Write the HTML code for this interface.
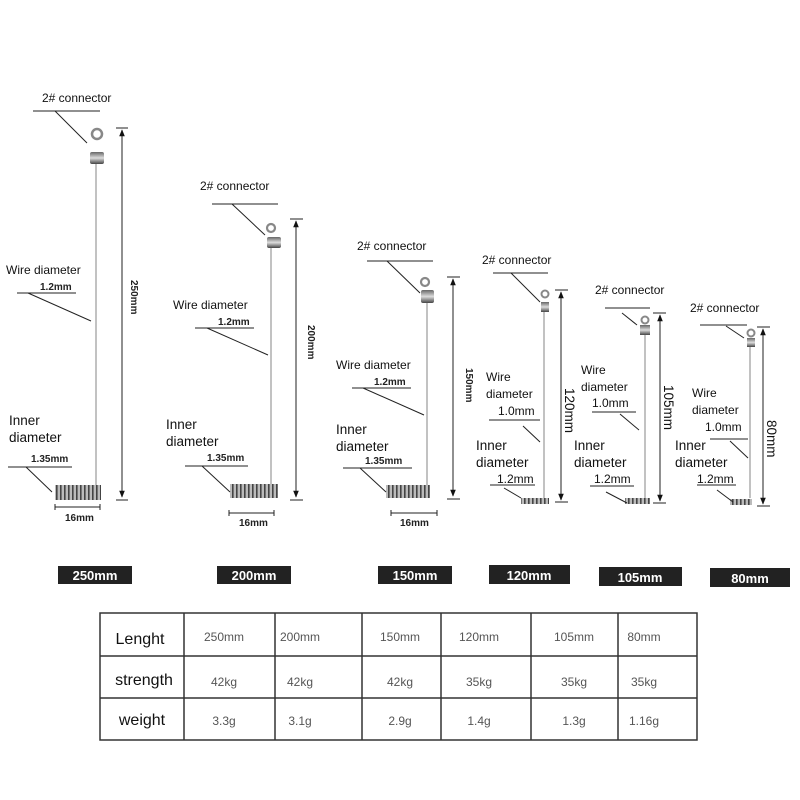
<!DOCTYPE html>
<html><head><style>
html,body{margin:0;padding:0;background:#fff;}
svg{display:block;font-family:"Liberation Sans",sans-serif;}
.t{font-size:12px;fill:#111}
.b{font-size:10px;font-weight:bold;fill:#222}
.n{font-size:13.5px;fill:#111}
.l{stroke:#222;stroke-width:1;fill:none}
.w{stroke:#999;stroke-width:1.2;fill:none}
.tbl text{font-size:12px;fill:#555;text-anchor:middle}
.tbl .h{font-size:16px;fill:#111}
.lab rect{fill:#222}
.lab text{fill:#fff;font-weight:bold;font-size:13px;text-anchor:middle}
</style></head><body>
<svg width="800" height="800" viewBox="0 0 800 800">
<defs>
<marker id="ar" viewBox="0 0 10 10" refX="9" refY="5" markerWidth="7" markerHeight="7" orient="auto-start-reverse"><path d="M0,1 L10,5 L0,9 z" fill="#111"/></marker>
<linearGradient id="sp" x1="0" y1="0" x2="0" y2="1"><stop offset="0" stop-color="#666"/><stop offset="0.5" stop-color="#ddd"/><stop offset="1" stop-color="#444"/></linearGradient>
<pattern id="coil" width="4" height="10" patternUnits="userSpaceOnUse"><rect width="4" height="10" fill="#bbb"/><rect width="1.6" height="10" fill="#444"/></pattern>
</defs>

<!-- Item 1 -->
<text class="t" x="42" y="102">2# connector</text>
<line class="l" x1="33" y1="111" x2="100" y2="111"/><line class="l" x1="55" y1="111" x2="87" y2="143"/>
<circle cx="97" cy="134" r="5" fill="none" stroke="#888" stroke-width="2.5"/>
<rect x="90" y="152" width="14" height="12" fill="url(#sp)" rx="2"/>
<line class="w" x1="96" y1="164" x2="96" y2="490"/>
<rect x="55" y="485" width="46" height="15" fill="url(#coil)"/>
<line class="l" x1="116" y1="128" x2="128" y2="128"/><line class="l" x1="116" y1="500" x2="128" y2="500"/>
<line class="l" x1="122" y1="130" x2="122" y2="497" marker-start="url(#ar)" marker-end="url(#ar)"/>
<text class="b" transform="translate(131,280) rotate(90)">250mm</text>
<text class="t" x="6" y="274">Wire diameter</text><text class="b" x="40" y="290">1.2mm</text>
<line class="l" x1="17" y1="293" x2="76" y2="293"/><line class="l" x1="28" y1="293" x2="91" y2="321"/>
<text class="n" x="9" y="425">Inner</text><text class="n" x="9" y="442">diameter</text><text class="b" x="31" y="462">1.35mm</text>
<line class="l" x1="8" y1="467" x2="72" y2="467"/><line class="l" x1="26" y1="467" x2="52" y2="492"/>
<line class="l" x1="55" y1="507" x2="100" y2="507"/><line class="l" x1="55" y1="504" x2="55" y2="510"/><line class="l" x1="100" y1="504" x2="100" y2="510"/>
<text class="b" x="65" y="521">16mm</text>

<!-- Item 2 -->
<text class="t" x="200" y="190">2# connector</text>
<line class="l" x1="212" y1="204" x2="278" y2="204"/><line class="l" x1="232" y1="204" x2="265" y2="235"/>
<circle cx="271" cy="228" r="4" fill="none" stroke="#888" stroke-width="2.2"/>
<rect x="267" y="237" width="14" height="11" fill="url(#sp)" rx="2"/>
<line class="w" x1="271" y1="248" x2="271" y2="490"/>
<rect x="230" y="484" width="48" height="14" fill="url(#coil)"/>
<line class="l" x1="290" y1="219" x2="303" y2="219"/><line class="l" x1="290" y1="500" x2="303" y2="500"/>
<line class="l" x1="296" y1="221" x2="296" y2="497" marker-start="url(#ar)" marker-end="url(#ar)"/>
<text class="b" transform="translate(308,325) rotate(90)">200mm</text>
<text class="t" x="173" y="309">Wire diameter</text><text class="b" x="218" y="325">1.2mm</text>
<line class="l" x1="195" y1="328" x2="254" y2="328"/><line class="l" x1="207" y1="328" x2="268" y2="355"/>
<text class="n" x="166" y="429">Inner</text><text class="n" x="166" y="446">diameter</text><text class="b" x="207" y="461">1.35mm</text>
<line class="l" x1="185" y1="466" x2="248" y2="466"/><line class="l" x1="202" y1="466" x2="230" y2="492"/>
<line class="l" x1="229" y1="513" x2="274" y2="513"/><line class="l" x1="229" y1="510" x2="229" y2="516"/><line class="l" x1="274" y1="510" x2="274" y2="516"/>
<text class="b" x="239" y="526">16mm</text>

<!-- Item 3 -->
<text class="t" x="357" y="250">2# connector</text>
<line class="l" x1="367" y1="261" x2="433" y2="261"/><line class="l" x1="387" y1="261" x2="420" y2="293"/>
<circle cx="425" cy="282" r="4" fill="none" stroke="#888" stroke-width="2.2"/>
<rect x="421" y="290" width="13" height="13" fill="url(#sp)" rx="2"/>
<line class="w" x1="427" y1="303" x2="427" y2="490"/>
<rect x="386" y="485" width="44" height="13" fill="url(#coil)"/>
<line class="l" x1="447" y1="277" x2="460" y2="277"/><line class="l" x1="447" y1="499" x2="460" y2="499"/>
<line class="l" x1="453" y1="279" x2="453" y2="496" marker-start="url(#ar)" marker-end="url(#ar)"/>
<text class="b" transform="translate(466,368) rotate(90)">150mm</text>
<text class="t" x="336" y="369">Wire diameter</text><text class="b" x="374" y="385">1.2mm</text>
<line class="l" x1="352" y1="388" x2="411" y2="388"/><line class="l" x1="363" y1="388" x2="424" y2="415"/>
<text class="n" x="336" y="434">Inner</text><text class="n" x="336" y="451">diameter</text><text class="b" x="365" y="464">1.35mm</text>
<line class="l" x1="343" y1="468" x2="412" y2="468"/><line class="l" x1="360" y1="468" x2="386" y2="492"/>
<line class="l" x1="391" y1="513" x2="437" y2="513"/><line class="l" x1="391" y1="510" x2="391" y2="516"/><line class="l" x1="437" y1="510" x2="437" y2="516"/>
<text class="b" x="400" y="526">16mm</text>

<!-- Item 4 -->
<text class="t" x="482" y="264">2# connector</text>
<line class="l" x1="493" y1="273" x2="548" y2="273"/><line class="l" x1="511" y1="273" x2="540" y2="302"/>
<circle cx="545" cy="294" r="3.5" fill="none" stroke="#888" stroke-width="2"/>
<rect x="541" y="302" width="8" height="10" fill="url(#sp)"/>
<line class="w" x1="544" y1="312" x2="544" y2="498"/>
<rect x="521" y="498" width="28" height="6" fill="url(#coil)"/>
<line class="l" x1="555" y1="290" x2="568" y2="290"/><line class="l" x1="555" y1="502" x2="568" y2="502"/>
<line class="l" x1="561" y1="292" x2="561" y2="500" marker-start="url(#ar)" marker-end="url(#ar)"/>
<text class="n" transform="translate(565,388) rotate(90)">120mm</text>
<text class="t" x="486" y="381">Wire</text><text class="t" x="486" y="398">diameter</text><text class="t" x="498" y="415">1.0mm</text>
<line class="l" x1="489" y1="420" x2="540" y2="420"/><line class="l" x1="523" y1="426" x2="540" y2="442"/>
<text class="n" x="476" y="450">Inner</text><text class="n" x="476" y="467">diameter</text><text class="t" x="497" y="483">1.2mm</text>
<line class="l" x1="490" y1="485" x2="535" y2="485"/><line class="l" x1="504" y1="488" x2="521" y2="498"/>

<!-- Item 5 -->
<text class="t" x="595" y="294">2# connector</text>
<line class="l" x1="605" y1="308" x2="650" y2="308"/><line class="l" x1="622" y1="313" x2="637" y2="325"/>
<circle cx="645" cy="320" r="3.5" fill="none" stroke="#888" stroke-width="2"/>
<rect x="640" y="325" width="10" height="10" fill="url(#sp)"/>
<line class="w" x1="645" y1="335" x2="645" y2="498"/>
<rect x="625" y="498" width="25" height="6" fill="url(#coil)"/>
<line class="l" x1="653" y1="313" x2="666" y2="313"/><line class="l" x1="653" y1="503" x2="666" y2="503"/>
<line class="l" x1="660" y1="315" x2="660" y2="501" marker-start="url(#ar)" marker-end="url(#ar)"/>
<text class="n" transform="translate(664,385) rotate(90)">105mm</text>
<text class="t" x="581" y="374">Wire</text><text class="t" x="581" y="391">diameter</text><text class="t" x="592" y="407">1.0mm</text>
<line class="l" x1="592" y1="412" x2="636" y2="412"/><line class="l" x1="620" y1="414" x2="639" y2="430"/>
<text class="n" x="574" y="450">Inner</text><text class="n" x="574" y="467">diameter</text><text class="t" x="594" y="483">1.2mm</text>
<line class="l" x1="590" y1="486" x2="634" y2="486"/><line class="l" x1="606" y1="492" x2="627" y2="503"/>

<!-- Item 6 -->
<text class="t" x="690" y="312">2# connector</text>
<line class="l" x1="700" y1="325" x2="747" y2="325"/><line class="l" x1="726" y1="326" x2="744" y2="338"/>
<circle cx="751" cy="333" r="3.5" fill="none" stroke="#888" stroke-width="2"/>
<rect x="747" y="338" width="8" height="9" fill="url(#sp)"/>
<line class="w" x1="750" y1="347" x2="750" y2="498"/>
<rect x="730" y="499" width="22" height="6" fill="url(#coil)"/>
<line class="l" x1="757" y1="327" x2="770" y2="327"/><line class="l" x1="757" y1="506" x2="770" y2="506"/>
<line class="l" x1="763" y1="329" x2="763" y2="504" marker-start="url(#ar)" marker-end="url(#ar)"/>
<text class="n" transform="translate(767,420) rotate(90)">80mm</text>
<text class="t" x="692" y="397">Wire</text><text class="t" x="692" y="414">diameter</text><text class="t" x="705" y="431">1.0mm</text>
<line class="l" x1="710" y1="439" x2="748" y2="439"/><line class="l" x1="730" y1="441" x2="748" y2="458"/>
<text class="n" x="675" y="450">Inner</text><text class="n" x="675" y="467">diameter</text><text class="t" x="697" y="483">1.2mm</text>
<line class="l" x1="697" y1="485" x2="736" y2="485"/><line class="l" x1="717" y1="490" x2="733" y2="502"/>

<!-- labels -->
<g class="lab">
<rect x="58" y="566" width="74" height="18"/><text x="95" y="580">250mm</text>
<rect x="217" y="566" width="74" height="18"/><text x="254" y="580">200mm</text>
<rect x="378" y="566" width="74" height="18"/><text x="415" y="580">150mm</text>
<rect x="489" y="565" width="81" height="19"/><text x="529" y="580">120mm</text>
<rect x="599" y="567" width="83" height="19"/><text x="640" y="582">105mm</text>
<rect x="710" y="568" width="80" height="19"/><text x="750" y="583">80mm</text>
</g>

<!-- table -->
<g class="tbl">
<rect x="100" y="613" width="597" height="127" fill="none" stroke="#333" stroke-width="1.5"/>
<line x1="100" y1="656" x2="697" y2="656" stroke="#333" stroke-width="1.5"/>
<line x1="100" y1="698" x2="697" y2="698" stroke="#333" stroke-width="1.5"/>
<line x1="184" y1="613" x2="184" y2="740" stroke="#333" stroke-width="1.5"/>
<line x1="275" y1="613" x2="275" y2="740" stroke="#333" stroke-width="1.5"/>
<line x1="362" y1="613" x2="362" y2="740" stroke="#333" stroke-width="1.5"/>
<line x1="441" y1="613" x2="441" y2="740" stroke="#333" stroke-width="1.5"/>
<line x1="531" y1="613" x2="531" y2="740" stroke="#333" stroke-width="1.5"/>
<line x1="618" y1="613" x2="618" y2="740" stroke="#333" stroke-width="1.5"/>
<text class="h" x="140" y="644">Lenght</text>
<text class="h" x="144" y="685">strength</text>
<text class="h" x="142" y="725">weight</text>
<text x="224" y="641">250mm</text><text x="300" y="641">200mm</text><text x="400" y="641">150mm</text>
<text x="479" y="641">120mm</text><text x="574" y="641">105mm</text><text x="644" y="641">80mm</text>
<text x="224" y="686">42kg</text><text x="300" y="686">42kg</text><text x="400" y="686">42kg</text>
<text x="479" y="686">35kg</text><text x="574" y="686">35kg</text><text x="644" y="686">35kg</text>
<text x="224" y="725">3.3g</text><text x="300" y="725">3.1g</text><text x="400" y="725">2.9g</text>
<text x="479" y="725">1.4g</text><text x="574" y="725">1.3g</text><text x="644" y="725">1.16g</text>
</g>
</svg>
</body></html>
